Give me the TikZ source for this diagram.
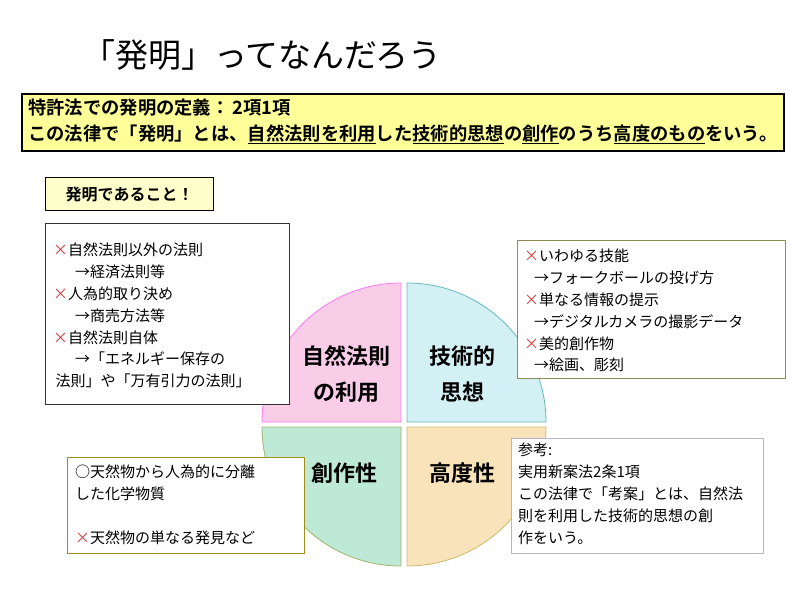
\documentclass[tikz,border=0pt]{standalone}
\usepackage{fontspec}
\setmainfont{Noto Sans CJK JP}
\newfontfamily\jpb{Noto Sans CJK JP Bold}
\definecolor{xred}{HTML}{D04040}
\definecolor{pinkq}{HTML}{F9CCE8}
\definecolor{blueq}{HTML}{D3F1F5}
\definecolor{greenq}{HTML}{BEE9D6}
\definecolor{tanq}{HTML}{F8E3BA}
\definecolor{ybox}{HTML}{FFFF99}
\definecolor{lybox}{HTML}{FFFFCC}
\newcommand{\xx}{\textcolor{xred}{×}}
\newcommand{\ul}[1]{\underline{#1}}
\begin{document}
\begin{tikzpicture}[x=1pt,y=-1pt,
  txt/.style={anchor=north west,align=left,inner sep=0pt,font=\fontsize{15}{21.8}\selectfont},
  qlab/.style={align=center,font=\fontsize{22}{36}\jpb},
  quad/.style={line width=0.8pt}]
\useasboundingbox (0,0) rectangle (800,600);
\node[font=\fontsize{33}{36}\selectfont] (title) at (262,55) {「発明」ってなんだろう};
\node[draw,line width=1.6pt,fill=ybox,minimum width=762pt,minimum height=57pt,anchor=north west,inner sep=0pt] (def) at (21,93) {};
\node[anchor=west,font=\fontsize{18.3}{26}\jpb,align=left,inner sep=0pt] (deft) at (28,121.5) {特許法での発明の定義：\,2項1項\\この法律で「発明」とは、\ul{自然法則を利用}した\ul{技術的思想}の\ul{創作}のうち\ul{高度のもの}をいう。};
\node[draw,line width=1.2pt,fill=lybox,minimum width=168pt,minimum height=33pt,anchor=north west,inner sep=0pt,font=\fontsize{16}{20}\jpb] (must) at (45,177) {発明であること！};
% quadrants
\fill[pinkq,draw=pinkq!60!magenta,quad] (401,422) -- (262,422) arc[start angle=180,end angle=270,radius=139] -- cycle;
\fill[blueq,draw=blueq!50!teal,quad] (407,422) -- (407,283) arc[start angle=270,end angle=360,radius=139] -- cycle;
\fill[greenq,draw=greenq!50!olive,quad] (401,427) -- (401,566) arc[start angle=90,end angle=180,radius=139] -- cycle;
\fill[tanq,draw=tanq!60!olive,quad] (407,427) -- (546,427) arc[start angle=0,end angle=90,radius=139] -- cycle;
\node[qlab] (q1) at (346,374) {自然法則\\の利用};
\node[qlab] (q2) at (462,374) {技術的\\思想};
\node[qlab] (q3) at (344,473) {創作性};
\node[qlab] (q4) at (462,473) {高度性};
% boxes
\draw[fill=white,line width=0.8pt,draw=black!80] (45,223) rectangle (289,404);
\node[txt] (lt) at (53,243) {\xx 自然法則以外の法則\\\hspace*{22pt}→経済法則等\\\xx 人為的取り決め\\\hspace*{22pt}→商売方法等\\\xx 自然法則自体\\\hspace*{22pt}→「エネルギー保存の\\\,法則」や「万有引力の法則」};
\draw[fill=white,line width=0.8pt,draw=olive!40!gray] (517,240) rectangle (785,378);
\node[txt] (rt) at (524,249) {\xx いわゆる技能\\\hspace*{10pt}→フォークボールの投げ方\\\xx 単なる情報の提示\\\hspace*{10pt}→デジタルカメラの撮影データ\\\xx 美的創作物\\\hspace*{10pt}→絵画、彫刻};
\draw[fill=white,line width=0.8pt,draw=olive!70!brown] (67,457) rectangle (304,553);
\node[txt] (lb) at (75,465) {○天然物から人為的に分離\\した化学物質\\[21.8pt]\xx 天然物の単なる発見など};
\draw[fill=white,line width=0.8pt,draw=blue!15!gray!50] (511,438) rectangle (763,553);
\node[txt] (rb) at (518,443) {参考:\\実用新案法2条1項\\この法律で「考案」とは、自然法\\則を利用した技術的思想の創\\作をいう。};
\end{tikzpicture}
\end{document}
